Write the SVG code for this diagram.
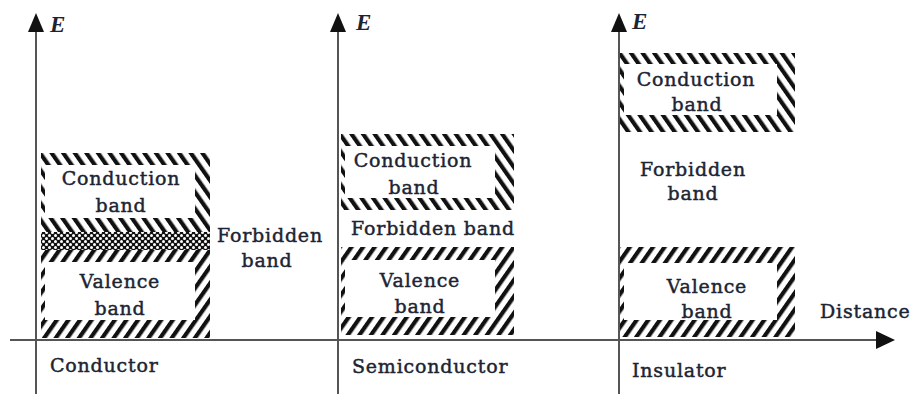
<svg xmlns="http://www.w3.org/2000/svg" width="912" height="394" viewBox="0 0 912 394">
<style>
.t{font-family:"DejaVu Serif","Liberation Serif",serif;font-size:19px;fill:#1c2433;stroke:#1c2433;stroke-width:0.45px;letter-spacing:0.8px;text-anchor:middle}
.l{text-anchor:start}
.e{font-family:"Liberation Serif","DejaVu Serif",serif;font-style:italic;font-weight:bold;font-size:23px;fill:#1c2433}
.ax{stroke:#555;stroke-width:2;fill:none}
.hd{fill:#111}
.in{fill:#fff}
</style>
<defs>
<pattern id="hb" width="9.5" height="9.5" patternUnits="userSpaceOnUse" patternTransform="rotate(-35)">
<rect width="9.5" height="9.5" fill="#fff"/><rect x="0" y="0" width="4.2" height="9.5" fill="#111"/>
</pattern>
<pattern id="hf" width="9.5" height="9.5" patternUnits="userSpaceOnUse" patternTransform="rotate(35)">
<rect width="9.5" height="9.5" fill="#fff"/><rect x="0" y="0" width="4.2" height="9.5" fill="#111"/>
</pattern>
<pattern id="dots" width="6" height="6" patternUnits="userSpaceOnUse">
<rect width="6" height="6" fill="#111"/><circle cx="1.5" cy="1.5" r="1.5" fill="#fff"/><circle cx="4.5" cy="4.5" r="1.5" fill="#fff"/>
</pattern>
</defs>
<rect width="912" height="394" fill="#fff"/>

<g id="conductor">
<g id="conductor-conduction">
<rect x="41" y="153" width="169" height="79" fill="url(#hb)"/>
<rect class="in" x="45" y="165" width="150" height="53"/>
<text class="t" x="121" y="185">Conduction</text>
<text class="t" x="121" y="212">band</text>
</g>
<rect id="conductor-overlap" x="41" y="232" width="169" height="18" fill="url(#dots)"/>
<g id="conductor-valence">
<rect x="41" y="250" width="169" height="88" fill="url(#hf)"/>
<rect class="in" x="45" y="262" width="150" height="58"/>
<text class="t" x="120" y="288">Valence</text>
<text class="t" x="120" y="315">band</text>
</g>
<text class="t" x="270" y="242">Forbidden</text>
<text class="t" x="267" y="267">band</text>
<text class="t l" x="50" y="372">Conductor</text>
</g>

<g id="semiconductor">
<g id="semi-conduction">
<rect x="341" y="134" width="173" height="76" fill="url(#hb)"/>
<rect class="in" x="345" y="146" width="150" height="52"/>
<text class="t" x="413" y="167">Conduction</text>
<text class="t" x="414" y="194">band</text>
</g>
<text class="t" x="433" y="235">Forbidden band</text>
<g id="semi-valence">
<rect x="341" y="247" width="173" height="88" fill="url(#hf)"/>
<rect class="in" x="345" y="260" width="150" height="57"/>
<text class="t" x="420" y="287">Valence</text>
<text class="t" x="420" y="313">band</text>
</g>
<text class="t l" x="352" y="373">Semiconductor</text>
</g>

<g id="insulator">
<g id="ins-conduction">
<rect x="620" y="53" width="175" height="79" fill="url(#hb)"/>
<rect class="in" x="624" y="64" width="153" height="51"/>
<text class="t" x="696" y="86">Conduction</text>
<text class="t" x="697" y="111">band</text>
</g>
<text class="t" x="693" y="176">Forbidden</text>
<text class="t" x="693" y="200">band</text>
<g id="ins-valence">
<rect x="620" y="247" width="175" height="90" fill="url(#hf)"/>
<rect class="in" x="624" y="263" width="153" height="57"/>
<text class="t" x="707" y="293">Valence</text>
<text class="t" x="707" y="318">band</text>
</g>
<text class="t l" x="632" y="377">Insulator</text>
<text class="t l" x="820" y="318">Distance</text>
</g>

<g id="connectors">
<line class="ax" x1="10" y1="340" x2="880" y2="340"/>
<polygon class="hd" points="876,331 895,340 876,349"/>
<line class="ax" x1="36" y1="394" x2="36" y2="28"/>
<polygon class="hd" points="28,32 36,13 44,32"/>
<line class="ax" x1="338" y1="394" x2="338" y2="28"/>
<polygon class="hd" points="330,32 338,13 346,32"/>
<line class="ax" x1="619" y1="394" x2="619" y2="28"/>
<polygon class="hd" points="611,32 619,13 627,32"/>
<text class="e" x="50" y="32">E</text>
<text class="e" x="356" y="30">E</text>
<text class="e" x="632" y="29">E</text>
</g>
</svg>
